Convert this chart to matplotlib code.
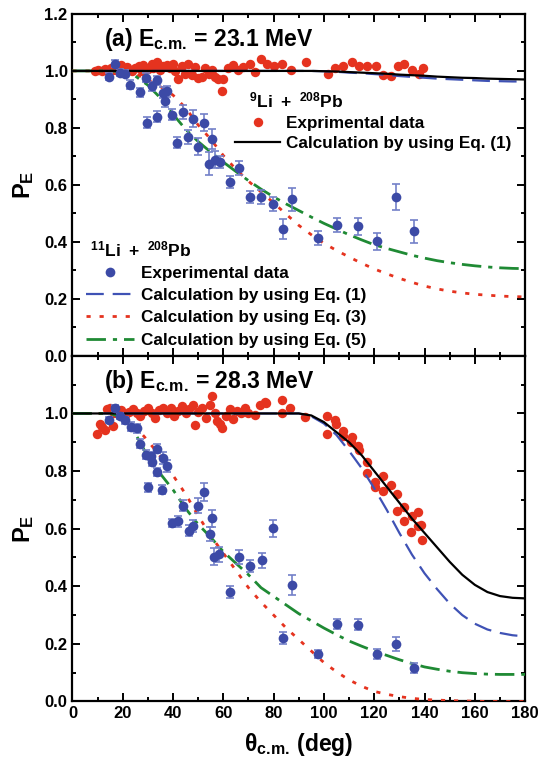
import numpy as np
import matplotlib
matplotlib.use("Agg")
import matplotlib.pyplot as plt
from matplotlib.lines import Line2D

plt.rcParams['font.family'] = ['Liberation Sans', 'DejaVu Sans']
plt.rcParams['font.weight'] = 'bold'
plt.rcParams['mathtext.fontset'] = 'custom'
plt.rcParams['mathtext.rm'] = 'Liberation Sans:bold'
plt.rcParams['mathtext.bf'] = 'Liberation Sans:bold'
plt.rcParams['mathtext.it'] = 'Liberation Sans:bold'

RED = "#e5331f"
BLUE = "#3c4aa6"
BLUE_LINE = "#3f52b5"
GREEN = "#1f8a34"

# ================= PANEL (a) 23.1 MeV =================
a_li9_x = [9, 10.3, 11.6, 13, 14.3, 15.5, 16.2, 17.5, 18.3, 19.5, 20.3, 21.6, 23.5, 24.8,
           26.3, 27.5, 28.2, 30.2, 31.5, 32.2, 33.5, 34.9, 36.2, 37.5, 38.8, 40.0, 40.8,
           42.1, 43.5, 44.8, 46.1, 47.4, 48.7, 50.0, 51.4, 52.8, 54.1, 55.4, 56.7, 58.0,
           59.3, 60.0, 62, 64, 66, 68,
           70.7, 72.6, 75.0, 77.4, 80.2, 83.3, 86.9, 92.9, 101.6, 104.4, 107.6, 111.2,
           114.0, 117.2, 120.7, 123.5, 126.7, 129.5, 131.9, 135.0, 137.8, 139.4]
a_li9_y = [1.0, 1.003, 0.998, 1.006, 1.0, 1.01, 1.004, 1.012, 0.998, 1.02, 1.006, 1.015,
           1.0, 1.01, 1.018, 1.0, 1.022, 1.008, 1.026, 1.012, 1.03, 1.005, 1.016, 1.022,
           1.01, 1.024, 1.0, 0.972, 1.018, 0.99, 1.025, 0.985, 1.015, 0.975, 0.98, 1.012,
           0.99, 1.005, 0.978, 0.97, 0.93, 0.972, 1.01, 1.02, 1.005, 1.015,
           1.026, 0.995, 1.041, 1.026, 1.019, 1.026, 1.002, 1.03, 0.988, 1.012, 1.016,
           1.03, 1.016, 1.019, 1.016, 0.984, 0.981, 1.019, 1.026, 1.005, 0.988, 1.012]

a_li11_x = [14.7, 16.9, 18.9, 20.9, 22.9, 26.9, 29.3, 31.5, 33.8, 36.0, 36.8, 37.6, 29.7,
            33.6, 39.6, 44.0, 48.0, 52.3, 41.6, 46.0, 49.9, 55.5, 54.3, 56.7, 58.7, 66.3,
            62.7, 70.6, 75.0, 79.8, 87.3, 83.7, 97.7, 105.2, 113.6, 121.1, 128.7, 135.8]
a_li11_y = [0.98, 1.026, 0.994, 0.99, 0.952, 0.925, 0.976, 0.946, 0.967, 0.924, 0.893,
            0.928, 0.818, 0.84, 0.847, 0.857, 0.832, 0.818, 0.748, 0.769, 0.734, 0.762,
            0.674, 0.688, 0.681, 0.66, 0.61, 0.557, 0.557, 0.533, 0.55, 0.444, 0.413,
            0.459, 0.455, 0.402, 0.557, 0.437]
a_li11_err = [0.012, 0.012, 0.012, 0.012, 0.015, 0.015, 0.015, 0.015, 0.015, 0.02, 0.02,
              0.02, 0.02, 0.02, 0.02, 0.025, 0.03, 0.03, 0.02, 0.025, 0.03, 0.035, 0.04,
              0.03, 0.02, 0.025, 0.02, 0.02, 0.025, 0.025, 0.04, 0.035, 0.025, 0.025, 0.03,
              0.03, 0.045, 0.04]

curve_x = [0, 10, 15, 20, 25, 30, 35, 40, 45, 50, 55, 60, 65, 70, 75, 80, 85, 90, 95,
           100, 105, 110, 115, 120, 125, 130, 135, 140, 145, 150, 155, 160, 165, 170,
           175, 180]

a_eq1_li9 = [1.0] * 19 + [0.999, 0.998, 0.996, 0.994, 0.992, 0.99, 0.987, 0.985, 0.983,
                          0.98, 0.978, 0.976, 0.975, 0.973, 0.972, 0.971, 0.97]
a_eq1_li11 = [1.0] * 19 + [0.999, 0.997, 0.994, 0.992, 0.989, 0.986, 0.982, 0.979, 0.976,
                           0.973, 0.971, 0.969, 0.967, 0.965, 0.964, 0.963, 0.963]
a_eq3_li11 = [1.0, 1.0, 1.0, 0.998, 0.99, 0.968, 0.945, 0.915, 0.87, 0.81, 0.76, 0.703,
              0.655, 0.613, 0.575, 0.537, 0.497, 0.458, 0.425, 0.395, 0.37, 0.347, 0.325,
              0.305, 0.288, 0.272, 0.258, 0.245, 0.235, 0.227, 0.221, 0.216, 0.213, 0.21,
              0.208, 0.207]
a_eq5_li11 = [1.0, 1.0, 1.0, 0.997, 0.982, 0.95, 0.905, 0.848, 0.795, 0.752, 0.715, 0.68,
              0.647, 0.615, 0.585, 0.558, 0.533, 0.51, 0.487, 0.465, 0.445, 0.425, 0.407,
              0.39, 0.377, 0.365, 0.353, 0.343, 0.334, 0.327, 0.321, 0.316, 0.312, 0.309,
              0.307, 0.306]

# ================= PANEL (b) 28.3 MeV =================
b_li9_x = [9.7, 11.6, 13.0, 16.3, 10.8,
           13.6, 15, 16.5, 18, 19.5, 21, 22.5, 24, 25.5, 27, 28.5, 30, 31.5, 33, 34.5, 36,
           37.5, 39, 40.5, 42, 43.5, 45, 46.5, 48, 48.8, 50, 51.5, 53, 54.5, 55.4, 56.5,
           57.5, 58.5, 59.6, 61, 62.5, 64, 65.5, 67, 68.5, 70,
           72.6, 74.6, 76.6, 77.0, 83.2, 83.5, 86.5, 92.5, 101.4, 101.4, 104.4, 104.7,
           107.7, 107.7, 111.1, 110.8, 113.7, 114.1, 117.0, 117.3, 120.3, 120.3, 123.4,
           123.4, 126.6, 128.9, 131.8, 129.2, 131.8, 134.9, 137.5, 138.6, 137.4, 134.6,
           139.1]
b_li9_y = [0.927, 0.954, 0.942, 0.956, 0.962,
           1.015, 1.02, 1.0, 1.01, 1.012, 0.995, 1.005, 1.015, 1.0, 0.99, 1.01, 1.02, 1.0,
           0.985, 1.012, 1.02, 1.0, 1.018, 0.99, 1.01, 1.025, 1.0, 1.015, 1.028, 0.961,
           1.005, 1.02, 0.985, 1.03, 1.06, 1.0, 0.975, 0.965, 0.948, 0.99, 1.015, 0.98,
           1.01, 1.0, 1.02, 1.0,
           0.994, 1.029, 1.041, 1.035, 1.046, 1.002, 1.02, 0.988, 0.991, 0.927, 0.977,
           0.963, 0.938, 0.922, 0.919, 0.901, 0.887, 0.872, 0.833, 0.793, 0.762, 0.744,
           0.783, 0.73, 0.75, 0.721, 0.674, 0.66, 0.628, 0.645, 0.657, 0.614, 0.609,
           0.587, 0.56]

b_li11_x = [16.9, 14.7, 18.9, 20.9, 23.2, 25.6, 26.9, 29.3, 31.1, 33.8, 31.5, 33.8, 36.1,
            37.7, 29.9, 35.7, 44.1, 50.1, 52.3, 55.6, 39.7, 42.1, 46.4, 48.1, 54.7, 79.9,
            56.3, 58.4, 66.2, 70.6, 75.3, 62.7, 87.4, 83.9, 97.5, 105.3, 113.4, 121.0,
            128.5, 135.9]
b_li11_y = [1.02, 0.977, 0.992, 0.977, 0.954, 0.948, 0.895, 0.857, 0.852, 0.878, 0.831,
            0.797, 0.845, 0.817, 0.744, 0.736, 0.68, 0.68, 0.727, 0.636, 0.62, 0.625,
            0.593, 0.61, 0.581, 0.601, 0.503, 0.511, 0.502, 0.47, 0.49, 0.38, 0.403, 0.221,
            0.165, 0.269, 0.267, 0.165, 0.2, 0.116]
b_li11_err = [0.01, 0.01, 0.01, 0.012, 0.015, 0.015, 0.015, 0.015, 0.015, 0.015, 0.015,
              0.015, 0.02, 0.02, 0.015, 0.015, 0.02, 0.025, 0.03, 0.03, 0.015, 0.02, 0.02,
              0.02, 0.025, 0.03, 0.03, 0.025, 0.025, 0.02, 0.025, 0.02, 0.035, 0.02, 0.015,
              0.018, 0.02, 0.018, 0.025, 0.018]

b_eq1_li9 = [1.0] * 18 + [0.993, 0.97, 0.935, 0.9, 0.855, 0.8, 0.745, 0.69, 0.635, 0.585,
                          0.535, 0.485, 0.44, 0.405, 0.38, 0.366, 0.36, 0.358]
b_eq1_li11 = [1.0] * 18 + [0.99, 0.965, 0.925, 0.87, 0.81, 0.74, 0.665, 0.585, 0.51,
                           0.445, 0.39, 0.34, 0.3, 0.27, 0.25, 0.238, 0.23, 0.226]
b_eq3_li11 = [1.0, 1.0, 1.0, 0.99, 0.955, 0.905, 0.85, 0.785, 0.72, 0.645, 0.575, 0.515,
              0.455, 0.395, 0.345, 0.3, 0.255, 0.215, 0.175, 0.135, 0.103, 0.075, 0.053,
              0.035, 0.025, 0.017, 0.011, 0.007, 0.005, 0.003, 0.002, 0.001, 0.0, 0.0, 0.0,
              0.0]
b_eq5_li11 = [1.0, 1.0, 1.0, 0.985, 0.93, 0.85, 0.79, 0.735, 0.67, 0.615, 0.57, 0.52,
              0.48, 0.44, 0.395, 0.365, 0.335, 0.305, 0.28, 0.255, 0.232, 0.21, 0.192,
              0.175, 0.16, 0.145, 0.132, 0.12, 0.112, 0.105, 0.1, 0.097, 0.095, 0.094,
              0.094, 0.094]

panels = [
    ("(a)", "23.1", a_li9_x, a_li9_y, a_li11_x, a_li11_y, a_li11_err,
     a_eq1_li9, a_eq1_li11, a_eq3_li11, a_eq5_li11),
    ("(b)", "28.3", b_li9_x, b_li9_y, b_li11_x, b_li11_y, b_li11_err,
     b_eq1_li9, b_eq1_li11, b_eq3_li11, b_eq5_li11),
]

fig = plt.figure(figsize=(5.53, 7.62), dpi=100)
ax_top = fig.add_axes([0.131, 0.533, 0.8186, 0.4487])
ax_bot = fig.add_axes([0.131, 0.0794, 0.8186, 0.4536])

for ax, p in zip([ax_top, ax_bot], panels):
    tag, energy, x9, y9, x11, y11, e11, c1_9, c1_11, c3_11, c5_11 = p

    ax.plot(curve_x, c1_11, color=BLUE_LINE, lw=1.6, dashes=(8, 4), zorder=3)
    ax.plot(curve_x, c3_11, color=RED, lw=2.0, dashes=(1.5, 3.2), zorder=3)
    ax.plot(curve_x, c5_11, color=GREEN, lw=2.0, dashes=(7, 2.5, 1.5, 2.5), zorder=3)
    ax.plot(curve_x, c1_9, color='black', lw=1.6, zorder=4)

    ax.plot(x9, y9, 'o', color=RED, ms=6.8, mec='none', zorder=2)
    ax.errorbar(x11, y11, yerr=e11, fmt='o', color=BLUE, ms=7, mec='none',
                ecolor='#7380c8', elinewidth=1.2, capsize=3, capthick=1.2, zorder=5)

    ax.set_xlim(0, 180)
    ax.set_ylim(0, 1.2)
    ax.set_xticks(np.arange(0, 181, 20))
    ax.set_xticks(np.arange(0, 181, 10), minor=True)
    ax.set_yticks(np.arange(0, 1.21, 0.2))
    ax.set_yticks(np.arange(0, 1.21, 0.1), minor=True)
    ax.tick_params(which='both', direction='in', top=True, right=True, width=1.4,
                   labelsize=12)
    ax.tick_params(which='major', length=6)
    ax.tick_params(which='minor', length=3)
    for s in ax.spines.values():
        s.set_linewidth(1.6)

    ax.text(0.07, 0.925, tag + r' $\mathbf{E_{c.\!m.\!}}$ = ' + energy + ' MeV',
            transform=ax.transAxes, fontsize=16.5, fontweight='bold', va='center')
    ax.set_ylabel(r'$\mathbf{P_E}$', fontsize=17, labelpad=6)

ax_top.tick_params(labelbottom=False)
ax_bot.set_yticks(np.arange(0, 1.01, 0.2))
ax_bot.set_yticks(np.arange(0, 1.21, 0.1), minor=True)
ax_bot.set_xlabel(r'$\mathbf{\theta_{c.\!m.\!}}$ (deg)', fontsize=16.5, fontweight='bold',
                  labelpad=7)
for ax in [ax_top, ax_bot]:
    for lab in ax.get_xticklabels() + ax.get_yticklabels():
        lab.set_fontweight('bold')

# legends in panel (a)
h9 = [Line2D([], [], ls='none', marker='o', color=RED, ms=6.8, mec='none'),
      Line2D([], [], color='black', lw=1.6)]
leg1 = ax_top.legend(h9, ['Exprimental data', 'Calculation by using Eq. (1)'],
                     title=r'   $\mathbf{^{9}Li\ +\ ^{208}Pb}$', loc='upper left',
                     bbox_to_anchor=(0.36, 0.775), frameon=False,
                     prop={'weight': 'bold', 'size': 12.3}, title_fontsize=12.5,
                     handlelength=2.6, handletextpad=0.35, labelspacing=0.3,
                     borderpad=0, borderaxespad=0, alignment='left')
ax_top.add_artist(leg1)

h11 = [Line2D([], [], ls='none', marker='o', color=BLUE, ms=7, mec='none'),
       Line2D([], [], color=BLUE_LINE, lw=1.6, dashes=(8, 4)),
       Line2D([], [], color=RED, lw=2.0, dashes=(1.5, 3.2)),
       Line2D([], [], color=GREEN, lw=2.0, dashes=(7, 2.5, 1.5, 2.5))]
ax_top.legend(h11, ['Experimental data', 'Calculation by using Eq. (1)',
                    'Calculation by using Eq. (3)', 'Calculation by using Eq. (5)'],
              title=r' $\mathbf{^{11}Li\ +\ ^{208}Pb}$', loc='lower left',
              bbox_to_anchor=(0.03, 0.024), frameon=False,
              prop={'weight': 'bold', 'size': 12.3}, title_fontsize=12.5,
              handlelength=2.8, handletextpad=0.4, labelspacing=0.42,
              borderpad=0, borderaxespad=0, alignment='left')

fig.savefig('out.png', dpi=100)
